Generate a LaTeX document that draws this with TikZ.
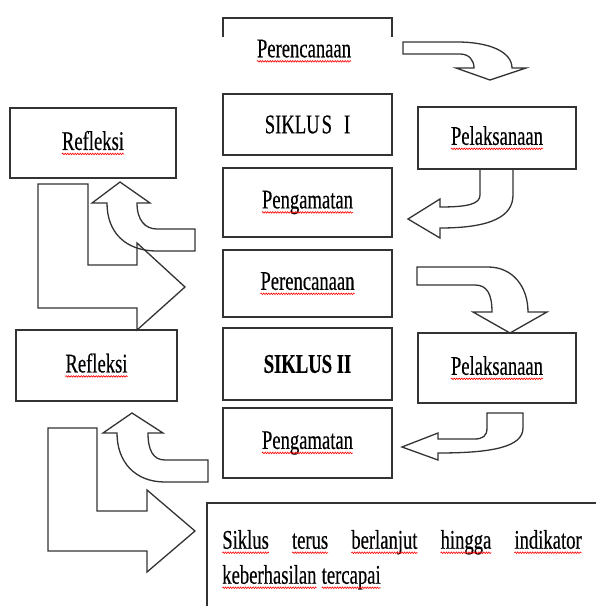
\documentclass[tikz,border=0pt]{standalone}
\usepackage{fontspec}
\setmainfont{Liberation Serif}[FakeStretch=0.69, FakeBold=0.35]
\usetikzlibrary{positioning,decorations.pathmorphing}
\newcommand{\spl}[1]{\tikz[baseline=(w.base)]{\node[inner sep=0pt, outer sep=0pt, draw=none,
    minimum width=0pt, minimum height=0pt, text width=, align=none] (w) {#1};
  \draw[red, line width=0.6pt, decorate, decoration={snake,amplitude=0.8pt,segment length=2.5pt}]
    ([yshift=-4pt]w.base west) -- ([yshift=-4pt]w.base east);}}

\begin{document}
\begin{tikzpicture}[
  x=1pt, y=-1pt,
  frame/.style={draw=black!80, line width=1.8pt},
  box/.style={frame, font=\fontsize{27}{35}\selectfont, inner sep=0pt, outer sep=0pt},
  mid/.style={box, minimum width=169},
  blockarrow/.style={draw=black!80, line width=1.3pt}
]
  \useasboundingbox (0,0) rectangle (596,606);
  \clip (0,0) rectangle (596,606);

  \node[box, draw=none] (plan1) at (304,51) {\spl{Perencanaan}};
  \draw[frame] (223,37) |- (392,18) -- (392,37);
  \node[mid, minimum height=61] (cycle1) at (307.5,124.5) {SIKLU\kern2pt S\kern12pt I};
  \node[mid, minimum height=69, below=13pt of cycle1] (obs1) {\spl{Pengamatan}};
  \node[mid, minimum height=67, below=13pt of obs1] (plan2) {\spl{Perencanaan}};
  \node[mid, minimum height=72, below=11pt of plan2] (cycle2) {\bfseries SIKLUS II};
  \node[mid, minimum height=70, below=8pt of cycle2] (obs2) {\spl{Pengamatan}};

  \node[box, minimum width=166, minimum height=70] (refl1) at (93,143) {\spl{Refleksi}};
  \node[box, minimum width=158, minimum height=62] (exec1) at (497,138) {\spl{Pelaksanaan}};
  \node[box, minimum width=158, minimum height=70] (exec2) at (497,368) {\spl{Pelaksanaan}};
  \node[box, minimum width=161, minimum height=71] (refl2) at (96.5,365.5) {\spl{Refleksi}};

  \node[box, anchor=north west, minimum width=420, minimum height=130] (note) at (207,503) {};
  \node[box, draw=none, anchor=north west, text width=360pt, align=justify] (notetext)
    at ([xshift=15pt, yshift=-27pt]note.north west)
    {\spl{Siklus} \spl{terus} \spl{berlanjut} \spl{hingga} \spl{indikator}\linebreak
     \spl{keberhasilan} \spl{tercapai}};

  \draw[blockarrow] (403,42) -- (457,42) .. controls (490,42) and (512,52) .. (512,68)
    -- (526,68) -- (490,80) -- (456,68) -- (474,68)
    .. controls (474,60) and (469,54) .. (460,54) -- (403,54) -- cycle;
  \draw[blockarrow] (480,169) -- (480,195) .. controls (480,204) and (468,207) .. (440,207)
    -- (440,199) -- (408,219) -- (440,238) -- (440,228)
    .. controls (492,228) and (513,216) .. (513,195) -- (513,169) -- cycle;
  \draw[blockarrow] (195,229) -- (157,229) .. controls (145,229) and (137,220) .. (137,203)
    -- (150,203) -- (120,182) -- (92,203) -- (107,203)
    .. controls (107,232) and (125,251) .. (157,251) -- (195,251) -- cycle;
  \draw[blockarrow] (38,184) -- (88,184) -- (88,265) -- (137,265) -- (137,243) -- (185,287)
    -- (137,330) -- (137,308) -- (38,308) -- cycle;
  \draw[blockarrow] (417,267) -- (488,267) .. controls (513,267) and (528,287) .. (528,312)
    -- (547,312) -- (510,333) -- (473,312) -- (492,312)
    .. controls (492,294) and (487,285) .. (475,285) -- (417,285) -- cycle;
  \draw[blockarrow] (487,413) -- (523,413) -- (523,428) .. controls (523,447) and (492,453) .. (438,453)
    -- (438,460) -- (402,447) -- (438,433) -- (438,439)
    -- (474,439) .. controls (483,439) and (487,436) .. (487,428) -- cycle;
  \draw[blockarrow] (208,460) -- (165,460) .. controls (153,460) and (148,450) .. (148,433)
    -- (163,433) -- (132,413) -- (103,433) -- (117,433)
    .. controls (117,462) and (135,482) .. (165,482) -- (208,482) -- cycle;
  \draw[blockarrow] (48,428) -- (97,428) -- (97,511) -- (147,511) -- (147,490) -- (195,531)
    -- (147,572) -- (147,551) -- (48,551) -- cycle;
\end{tikzpicture}
\end{document}
